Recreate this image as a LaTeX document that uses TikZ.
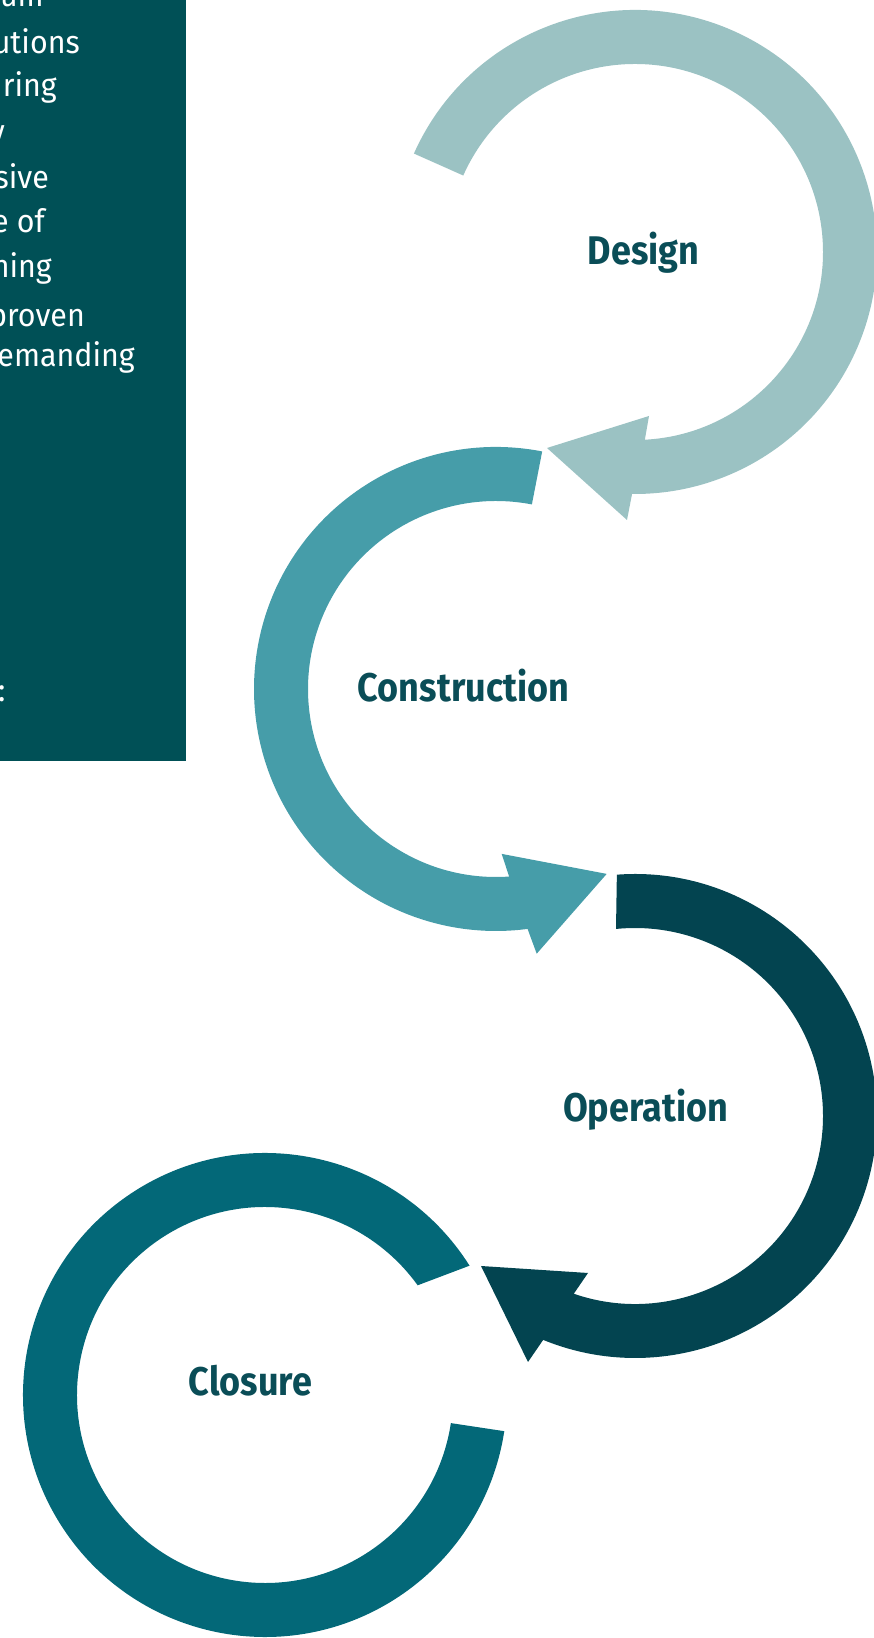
\documentclass[tikz,border=0pt]{standalone}
\usepackage{fontspec}
\usepackage{tikz}
\newfontfamily\labelfont[FakeStretch=0.9]{Fira Sans}
\newfontfamily\panelfont[FakeStretch=0.95]{Fira Sans}
\definecolor{panelteal}{HTML}{005056}
\definecolor{labelteal}{HTML}{0A4D57}
\definecolor{designcol}{HTML}{9BC2C3}
\definecolor{constructcol}{HTML}{469DA9}
\definecolor{operatecol}{HTML}{034450}
\definecolor{closecol}{HTML}{036878}

\begin{document}
\begin{tikzpicture}[x=1pt, y=1pt,
    phase/.style={font=\labelfont\bfseries\fontsize{40}{40}\selectfont, text=labelteal, anchor=base, inner sep=0pt},
    blurb/.style={font=\panelfont\fontsize{32}{32}\selectfont, text=white, anchor=base east, inner sep=0pt}]
        \useasboundingbox (0,0) rectangle (873,1638);

        % Text panel, cut off at the left
        \fill[panelteal] (0,877) rectangle (186,1638);
        \node[blurb] (b1) at (44,1631) {um};
        \node[blurb] (b2) at (80,1584) {utions};
        \node[blurb] (b3) at (57,1541) {uring};
        \node[blurb] (b4) at (5,1495) {y};
        \node[blurb] (b5) at (49,1449) {sive};
        \node[blurb] (b6) at (45,1405) {e of};
        \node[blurb] (b7) at (52,1360) {ning};
        \node[blurb] (b8) at (85,1311) {proven};
        \node[blurb] (b9) at (135,1271) {emanding};
        \node[blurb] (b10) at (5.5,936) {:};

        % Centres of the rings
        \coordinate (designc) at (635,1386);
        \coordinate (constructc) at (496,949);
        \coordinate (operatec) at (635,522);
        \coordinate (closec) at (265,243);

        % Design
        \fill[designcol] ([shift={(156:242)}]designc) arc[start angle=156, end angle=-90.7, radius=242]
            -- (627,1118) -- (547,1190) -- (649,1222)
            -- ([shift={(-87:188)}]designc) arc[start angle=-87, end angle=156, radius=188] -- cycle;

        % Construction
        \fill[constructcol] ([shift={(79:242)}]constructc) arc[start angle=79, end angle=277.5, radius=242]
            -- (536.7,684.3) -- (606.7,764.1) -- (501.7,784.1)
            -- ([shift={(274:188)}]constructc) arc[start angle=274, end angle=79, radius=188] -- cycle;

        % Operation
        \fill[operatecol] ([shift={(94.3:242)}]operatec) arc[start angle=94.3, end angle=-112.3, radius=242]
            -- (528,276) -- (481,372) -- (588,365)
            -- ([shift={(-109:188)}]operatec) arc[start angle=-109, end angle=95.8, radius=188] -- cycle;

        % Closure, no arrow head
        \fill[closecol] ([shift={(32.3:242)}]closec) arc[start angle=32.3, end angle=351.4, radius=242]
            -- ([shift={(351.4:188)}]closec) arc[start angle=351.4, end angle=35.7, radius=188] -- cycle;

        % Phase labels
        \node[phase] (design) at (643.5,1373) {Design};
        \node[phase] (construction) at (463.5,936) {Construction};
        \node[phase] (operation) at (645.5,516) {Operation};
        \node[phase] (closure) at (250.5,242) {Closure};
    \end{tikzpicture}
\end{document}
